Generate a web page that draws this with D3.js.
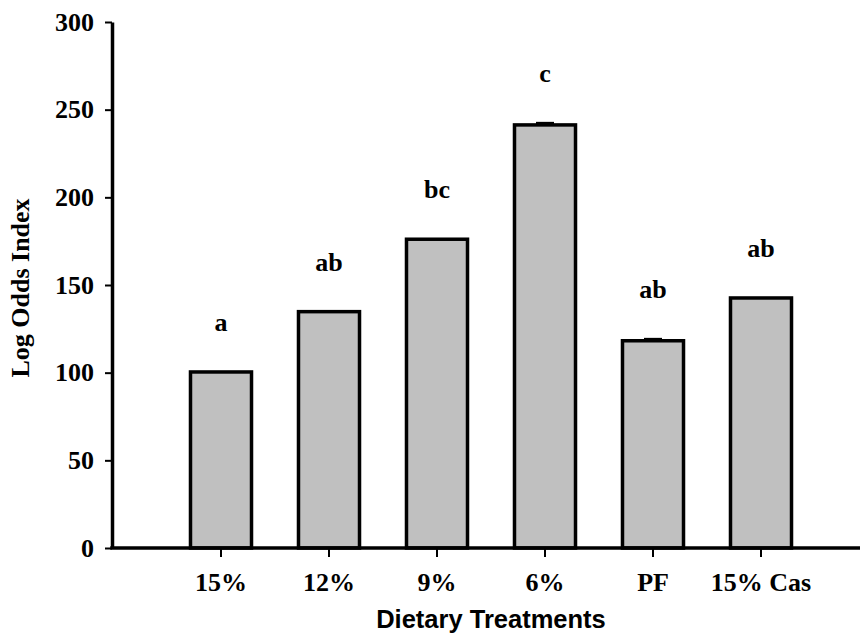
<!DOCTYPE html>
<html>
<head>
<meta charset="utf-8">
<script src="https://cdn.jsdelivr.net/npm/d3@7"></script>
<style>
  body { margin: 0; background: #fff; }
  svg { display: block; }
</style>
</head>
<body>
<script>
// Chart values
var treatments = ["15%", "12%", "9%", "6%", "PF", "15% Cas"]
var logOdds = [100.4, 134.8, 176.1, 241.3, 118.2, 142.6]
var errors = [0, 0, 0, 0.9, 0.8, 0]
var letters = ["a", "ab", "bc", "c", "ab", "ab"]
var yTicks = [0, 50, 100, 150, 200, 250, 300]

var data = treatments.map(function(t, i) {
  return {name: t, value: logOdds[i], err: errors[i], letter: letters[i]}
})

// Size of the page
var svgW = 860
var svgH = 634
var axisX = 112
var plotTop = 22
var plotBottom = 548

var serif = "'Liberation Serif', 'Times New Roman', serif"
var sans = "'Liberation Sans', Arial, sans-serif"

var svg = d3.select("body")
            .append("svg")
            .attr("width", svgW)
            .attr("height", svgH)

// Scales
var xScale = d3.scaleBand()
               .domain(treatments)
               .range([167, 815])
               .paddingInner(0.435)
               .paddingOuter(0.2175)

var yScale = d3.scaleLinear()
               .domain([0, 300])
               .range([plotBottom, plotTop])

// Bars
svg.selectAll("rect.bar")
   .data(data)
   .enter()
   .append("rect")
     .attr("class", "bar")
     .attr("x", function(d) { return xScale(d.name) })
     .attr("y", function(d) { return yScale(d.value) })
     .attr("width", xScale.bandwidth())
     .attr("height", function(d) { return yScale(0) - yScale(d.value) })
     .style("fill", "#c0c0c0")
     .style("stroke", "#000")
     .style("stroke-width", 3.5)

// Error bars (only the upper half shows)
var capW = 18
var errG = svg.append("g").attr("class", "errors")
data.filter(function(d) { return d.err > 0 }).forEach(function(d) {
  var cx = xScale(d.name) + xScale.bandwidth() / 2
  errG.append("line")
      .attr("x1", cx).attr("x2", cx)
      .attr("y1", yScale(d.value)).attr("y2", yScale(d.value + d.err))
      .style("stroke", "#000").style("stroke-width", 2.5)
  errG.append("line")
      .attr("x1", cx - capW / 2).attr("x2", cx + capW / 2)
      .attr("y1", yScale(d.value + d.err)).attr("y2", yScale(d.value + d.err))
      .style("stroke", "#000").style("stroke-width", 3)
})

// Significance letters
svg.selectAll("text.letter")
   .data(data)
   .enter()
   .append("text")
     .attr("class", "letter")
     .attr("x", function(d) { return xScale(d.name) + xScale.bandwidth() / 2 })
     .attr("y", function(d) { return yScale(d.value + d.err) - 41 })
     .style("text-anchor", "middle")
     .style("font-family", serif)
     .style("font-weight", "bold")
     .style("font-size", "26px")
     .text(function(d) { return d.letter })

// Y axis
var yAxis = d3.axisLeft(yScale)
              .tickValues(yTicks)
              .tickSize(7)
              .tickPadding(11)
              .tickSizeOuter(0)
var yG = svg.append("g")
            .attr("transform", "translate(" + axisX + ",0)")
            .call(yAxis)
yG.select(".domain").style("stroke", "#000").style("stroke-width", 3.5)
yG.selectAll(".tick line").style("stroke", "#000").style("stroke-width", 2)
yG.selectAll(".tick text")
  .style("font-family", serif)
  .style("font-weight", "bold")
  .style("font-size", "26px")
  .attr("fill", "#000")

// X axis, runs off the right edge
svg.append("line")
   .attr("x1", axisX - 1.75).attr("x2", svgW)
   .attr("y1", plotBottom).attr("y2", plotBottom)
   .style("stroke", "#000")
   .style("stroke-width", 3.5)

var xAxis = d3.axisBottom(xScale)
              .tickSize(9)
              .tickPadding(16)
              .tickSizeOuter(0)
var xG = svg.append("g")
            .attr("transform", "translate(0," + plotBottom + ")")
            .call(xAxis)
xG.select(".domain").remove()
xG.selectAll(".tick line").style("stroke", "#000").style("stroke-width", 2)
xG.selectAll(".tick text")
  .style("font-family", serif)
  .style("font-weight", "bold")
  .style("font-size", "26px")
  .attr("fill", "#000")

// Axis titles
svg.append("text")
   .attr("x", 491)
   .attr("y", 628)
   .style("text-anchor", "middle")
   .style("font-family", sans)
   .style("font-weight", "bold")
   .style("font-size", "25.5px")
   .text("Dietary Treatments")

svg.append("text")
   .attr("transform", "translate(29," + ((plotTop + plotBottom) / 2 + 3) + ") rotate(-90)")
   .style("text-anchor", "middle")
   .style("font-family", serif)
   .style("font-weight", "bold")
   .style("font-size", "26px")
   .text("Log Odds Index")
</script>
</body>
</html>
